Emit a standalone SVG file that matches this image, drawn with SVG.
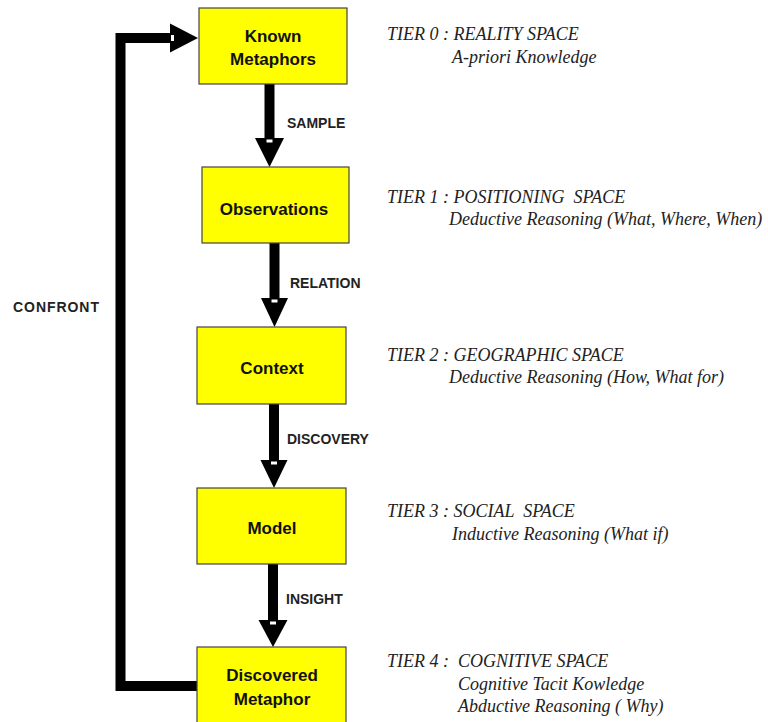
<svg xmlns="http://www.w3.org/2000/svg" width="768" height="722" viewBox="0 0 768 722">
  <style>
    .box { fill: #ffff00; stroke: #444; stroke-width: 1.2; }
    .node-text { font-family: "Liberation Sans", Arial, sans-serif; font-weight: bold; font-size: 17px; fill: #111; text-anchor: middle; }
    .edge-label { font-family: "Liberation Sans", Arial, sans-serif; font-weight: bold; font-size: 14px; fill: #222; }
    .shaft { fill: none; stroke: #000; stroke-width: 10; }
    .head { fill: #000; }
    .notch { fill: #fff; }
    .tier { font-family: "Liberation Serif", "Times New Roman", serif; font-style: italic; font-size: 18px; fill: #222; white-space: pre; }
  </style>

  <rect width="768" height="722" fill="#fff"/>

  <!-- connectors -->
  <g id="connectors">
    <!-- SAMPLE -->
    <line class="shaft" x1="269.5" y1="84" x2="269.5" y2="139"/>
    <polygon class="head" points="255,138 284,138 269.5,167"/>
    <rect class="notch" x="266.5" y="139.5" width="6" height="3"/>
    <!-- RELATION -->
    <line class="shaft" x1="274.5" y1="243" x2="274.5" y2="299"/>
    <polygon class="head" points="261,298 288,298 274.5,327"/>
    <rect class="notch" x="271.5" y="299.5" width="6" height="3"/>
    <!-- DISCOVERY -->
    <line class="shaft" x1="274" y1="404" x2="274" y2="461"/>
    <polygon class="head" points="260.5,460 287.5,460 274,488"/>
    <rect class="notch" x="271" y="461.5" width="6" height="3"/>
    <!-- INSIGHT -->
    <line class="shaft" x1="273" y1="564" x2="273" y2="621"/>
    <polygon class="head" points="258.5,620 287.5,620 273,647"/>
    <rect class="notch" x="270" y="621.5" width="6" height="3"/>
    <!-- CONFRONT loop -->
    <polyline class="shaft" points="197,686 120.5,686 120.5,38 171,38"/>
    <polygon class="head" points="170,23.5 170,52.5 198,38"/>
    <rect class="notch" x="171" y="35" width="3" height="6"/>

    <text class="edge-label" x="287" y="128">SAMPLE</text>
    <text class="edge-label" x="290" y="288">RELATION</text>
    <text class="edge-label" x="287" y="444">DISCOVERY</text>
    <text class="edge-label" x="286" y="604">INSIGHT</text>
    <text class="edge-label" x="13" y="312" textLength="86" lengthAdjust="spacing">CONFRONT</text>
  </g>

  <!-- nodes -->
  <g id="known-metaphors">
    <rect class="box" x="199" y="8" width="148" height="76"/>
    <text class="node-text" x="273" y="42">Known</text>
    <text class="node-text" x="273" y="65">Metaphors</text>
  </g>
  <g id="observations">
    <rect class="box" x="202" y="167" width="147" height="76"/>
    <text class="node-text" x="274" y="215">Observations</text>
  </g>
  <g id="context">
    <rect class="box" x="197" y="327" width="149" height="77"/>
    <text class="node-text" x="272" y="374">Context</text>
  </g>
  <g id="model">
    <rect class="box" x="197" y="488" width="149" height="76"/>
    <text class="node-text" x="272" y="534">Model</text>
  </g>
  <g id="discovered-metaphor">
    <rect class="box" x="197" y="647" width="149" height="80"/>
    <text class="node-text" x="272" y="681">Discovered</text>
    <text class="node-text" x="272" y="705">Metaphor</text>
  </g>

  <!-- tier descriptions -->
  <g id="tier-0">
    <text class="tier" x="387" y="40">TIER 0 : REALITY SPACE</text>
    <text class="tier" x="452" y="63">A-priori Knowledge</text>
  </g>
  <g id="tier-1">
    <text class="tier" x="387" y="203">TIER 1 : POSITIONING  SPACE</text>
    <text class="tier" x="449" y="225">Deductive Reasoning (What, Where, When)</text>
  </g>
  <g id="tier-2">
    <text class="tier" x="387" y="361">TIER 2 : GEOGRAPHIC SPACE</text>
    <text class="tier" x="449" y="383">Deductive Reasoning (How, What for)</text>
  </g>
  <g id="tier-3">
    <text class="tier" x="387" y="517">TIER 3 : SOCIAL  SPACE</text>
    <text class="tier" x="452" y="540">Inductive Reasoning (What if)</text>
  </g>
  <g id="tier-4">
    <text class="tier" x="387" y="667">TIER 4 :  COGNITIVE SPACE</text>
    <text class="tier" x="458" y="690">Cognitive Tacit Kowledge</text>
    <text class="tier" x="458" y="712">Abductive Reasoning ( Why)</text>
  </g>
</svg>
